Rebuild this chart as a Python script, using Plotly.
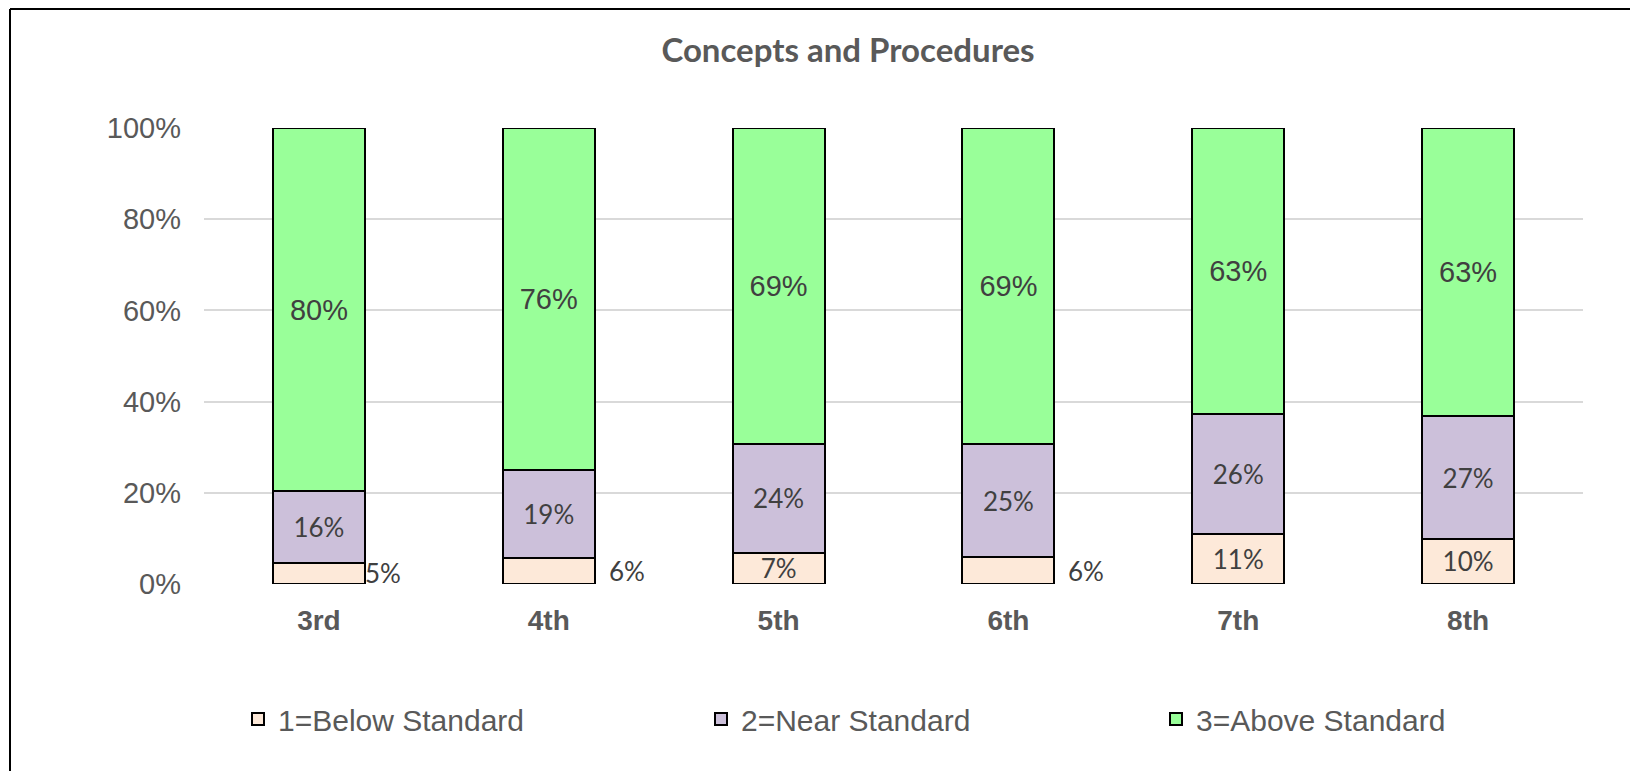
import plotly.graph_objects as go

grades = ["3rd", "4th", "5th", "6th", "7th", "8th"]
below = [4.7, 5.8, 6.9, 5.9, 11.0, 9.9]
near = [15.6, 19.4, 23.8, 24.8, 26.2, 26.9]
above = [79.7, 75.6, 69.3, 69.3, 62.8, 63.2]
# small "below" values whose labels sit beside the bar
below_outside = ["3rd", "4th", "6th"]
y_ticks = [0, 20, 40, 60, 80, 100]

ARIAL = "Liberation Sans, Arial, sans-serif"
CALIBRI = "Lato, Carlito, Calibri, sans-serif"
GREY = "#595959"
LABEL = "#404040"

# plot area in figure pixels (page has an 8px body margin)
L, R, T, B = 196, 1575, 120, 576

def pct(vals):
    return [f"{v:.0f}%" for v in vals]

below_text = ["" if g in below_outside else t for g, t in zip(grades, pct(below))]

fig = go.Figure()
fig.add_trace(go.Bar(x=grades, y=below, name="1=Below Standard", marker_color="#FDE9D9",
                     text=below_text, textfont=dict(family=CALIBRI, size=26, color=LABEL),
                     legend="legend"))
fig.add_trace(go.Bar(x=grades, y=near, name="2=Near Standard", marker_color="#CCC0DA",
                     text=pct(near), textfont=dict(family=CALIBRI, size=26, color=LABEL),
                     legend="legend2"))
fig.add_trace(go.Bar(x=grades, y=above, name="3=Above Standard", marker_color="#99FF99",
                     text=pct(above), textfont=dict(family=ARIAL, size=29, color=LABEL),
                     legend="legend3"))
fig.update_traces(marker_line_color="black", marker_line_width=2, textposition="inside",
                  insidetextanchor="middle", textangle=0, constraintext="none", showlegend=True)

# labels for thin segments, to the right of the bar
for g, b, n, a in zip(grades, below, near, above):
    if g in below_outside:
        fig.add_annotation(x=g, y=b / (b + n + a) * 100 / 2, text=f"{b:.0f}%", showarrow=False,
                           xanchor="left", xshift=44 if g == "3rd" else 58,
                           font=dict(family=CALIBRI, size=26, color=LABEL))

leg = dict(orientation="h", xref="container", yref="container", y=1 - 711 / 771,
           xanchor="left", yanchor="middle", font=dict(family=ARIAL, size=30, color=GREY))

W, H = R - L, B - T
fig.update_layout(
    barmode="stack", barnorm="percent", bargap=0.6, showlegend=True,
    width=1638, height=771, margin=dict(l=L, r=1638 - R, t=T, b=771 - B, autoexpand=False),
    plot_bgcolor="white", paper_bgcolor="white",
    title=dict(text="<b>Concepts and Procedures</b>", x=840 / 1638, xanchor="center",
               y=1 - 42 / 771, yanchor="middle", font=dict(family=CALIBRI, size=33, color=GREY)),
    legend=dict(leg, x=230 / 1638),
    legend2=dict(leg, x=693 / 1638),
    legend3=dict(leg, x=1148 / 1638),
    shapes=[dict(type="line", xref="paper", yref="paper", x0=(2 - L) / W, x1=(2 - L) / W,
                 y0=(B - 1) / H, y1=(B - 800) / H, line=dict(color="black", width=2)),
            dict(type="line", xref="paper", yref="paper", x0=(2 - L) / W, x1=(1626 - L) / W,
                 y0=(B - 1) / H, y1=(B - 1) / H, line=dict(color="black", width=2))],
)
fig.update_yaxes(range=[0, 100], tickvals=y_ticks, ticktext=[f"{v}%" for v in y_ticks],
                 gridcolor="#D9D9D9", gridwidth=1.5, zeroline=False, ticklabelstandoff=22,
                 tickfont=dict(family=ARIAL, size=29, color=GREY))
fig.update_xaxes(showline=False, ticklabelstandoff=17,
                 tickfont=dict(family=ARIAL, size=28, color=GREY), tickprefix="<b>", ticksuffix="</b>")

fig.write_html("out.html")
